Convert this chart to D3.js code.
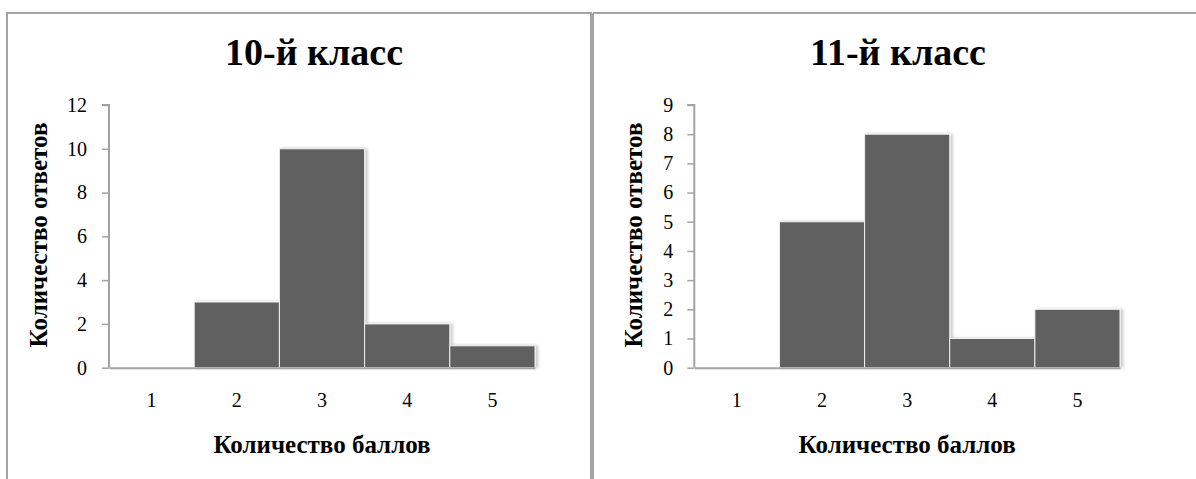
<!DOCTYPE html>
<html>
<head>
<meta charset="utf-8">
<script src="https://cdn.jsdelivr.net/npm/d3@7/dist/d3.min.js"></script>
<style>
  html, body { margin: 0; padding: 0; background: #fff; }
  svg { display: block; }
  text { font-family: "Liberation Serif", "Times New Roman", serif; fill: #000; }
</style>
</head>
<body>
<svg id="chart" width="1196" height="479"></svg>
<script>
// ---- data ----
const categories = ["1", "2", "3", "4", "5"];
const values10 = [0, 3, 10, 2, 1];
const values11 = [0, 5, 8, 1, 2];
const yTicks10 = [0, 2, 4, 6, 8, 10, 12];
const yTicks11 = [0, 1, 2, 3, 4, 5, 6, 7, 8, 9];
const titles = ["10-й класс", "11-й класс"];
const xAxisTitle = "Количество баллов";
const yAxisTitle = "Количество ответов";

// ---- layout ----
const svg = d3.select("#chart");
const borderColor = "#a3a3a3";

// panel frames
svg.append("rect").attr("x", 7).attr("y", 13).attr("width", 584).attr("height", 480)
  .attr("fill", "none").attr("stroke", borderColor).attr("stroke-width", 2);
svg.append("line").attr("x1", 593).attr("x2", 1196).attr("y1", 13).attr("y2", 13)
  .attr("stroke", borderColor).attr("stroke-width", 2);
svg.append("line").attr("x1", 593).attr("x2", 593).attr("y1", 13).attr("y2", 479)
  .attr("stroke", borderColor).attr("stroke-width", 2);

// shadow filter
const defs = svg.append("defs");
const f = defs.append("filter").attr("id", "shadow").attr("x", "-10%").attr("y", "-10%")
  .attr("width", "130%").attr("height", "130%");
f.append("feDropShadow").attr("dx", 2.5).attr("dy", 0).attr("stdDeviation", 1.5)
  .attr("flood-color", "#000").attr("flood-opacity", 0.22);

const charts = [
  { values: values10, ticks: yTicks10, max: 12, title: titles[0],
    x0: 109, x1: 535, yTop: 105, yBot: 367.7, titleX: 314, yTitleX: 46.5, pad: 15 },
  { values: values11, ticks: yTicks11, max: 9, title: titles[1],
    x0: 694.3, x1: 1120, yTop: 105, yBot: 367.7, titleX: 898, yTitleX: 641.5, pad: 14 }
];

charts.forEach(c => {
  const g = svg.append("g");
  const x = d3.scaleBand().domain(categories).range([c.x0, c.x1]).padding(0);
  const y = d3.scaleLinear().domain([0, c.max]).range([c.yBot, c.yTop]);

  // title
  g.append("text").attr("x", c.titleX).attr("y", 65).attr("text-anchor", "middle")
    .style("font-size", "38px").style("font-weight", "bold").text(c.title);

  // bars
  g.append("g").selectAll("rect").data(c.values).join("rect")
    .attr("x", (d, i) => x(categories[i]))
    .attr("y", d => y(d))
    .attr("width", x.bandwidth())
    .attr("height", d => c.yBot - y(d))
    .attr("fill", "#606060")
    .attr("stroke", d => d > 0 ? "#f0f0f0" : "none")
    .attr("stroke-width", 1)
    .attr("filter", d => d > 0 ? "url(#shadow)" : null);

  // y axis
  const ya = g.append("g").attr("transform", `translate(${c.x0},0)`)
    .call(d3.axisLeft(y).tickValues(c.ticks).tickSize(7).tickPadding(c.pad).tickFormat(d3.format("d")));
  ya.select(".domain").attr("stroke", borderColor).attr("stroke-width", 2).attr("d", `M-7,${c.yTop}H0V${c.yBot}`);
  ya.selectAll(".tick line").attr("stroke", borderColor).attr("stroke-width", 1.5);
  ya.selectAll(".tick text").style("font-size", "20px").attr("fill", "#000")
    .style("font-family", "'Liberation Serif', serif");

  // x axis
  const xa = g.append("g").attr("transform", `translate(0,${c.yBot})`)
    .call(d3.axisBottom(x).tickSize(0).tickPadding(24.8));
  xa.select(".domain").attr("stroke", borderColor).attr("stroke-width", 2);
  xa.selectAll(".tick text").style("font-size", "20px").attr("fill", "#000")
    .style("font-family", "'Liberation Serif', serif");

  // axis titles
  g.append("text").attr("x", (c.x0 + c.x1) / 2).attr("y", 453).attr("text-anchor", "middle")
    .style("font-size", "25px").style("font-weight", "bold").text(xAxisTitle);
  g.append("text").attr("transform", `translate(${c.yTitleX},235) rotate(-90)`)
    .attr("text-anchor", "middle")
    .style("font-size", "25px").style("font-weight", "bold").text(yAxisTitle);
});
</script>
</body>
</html>
